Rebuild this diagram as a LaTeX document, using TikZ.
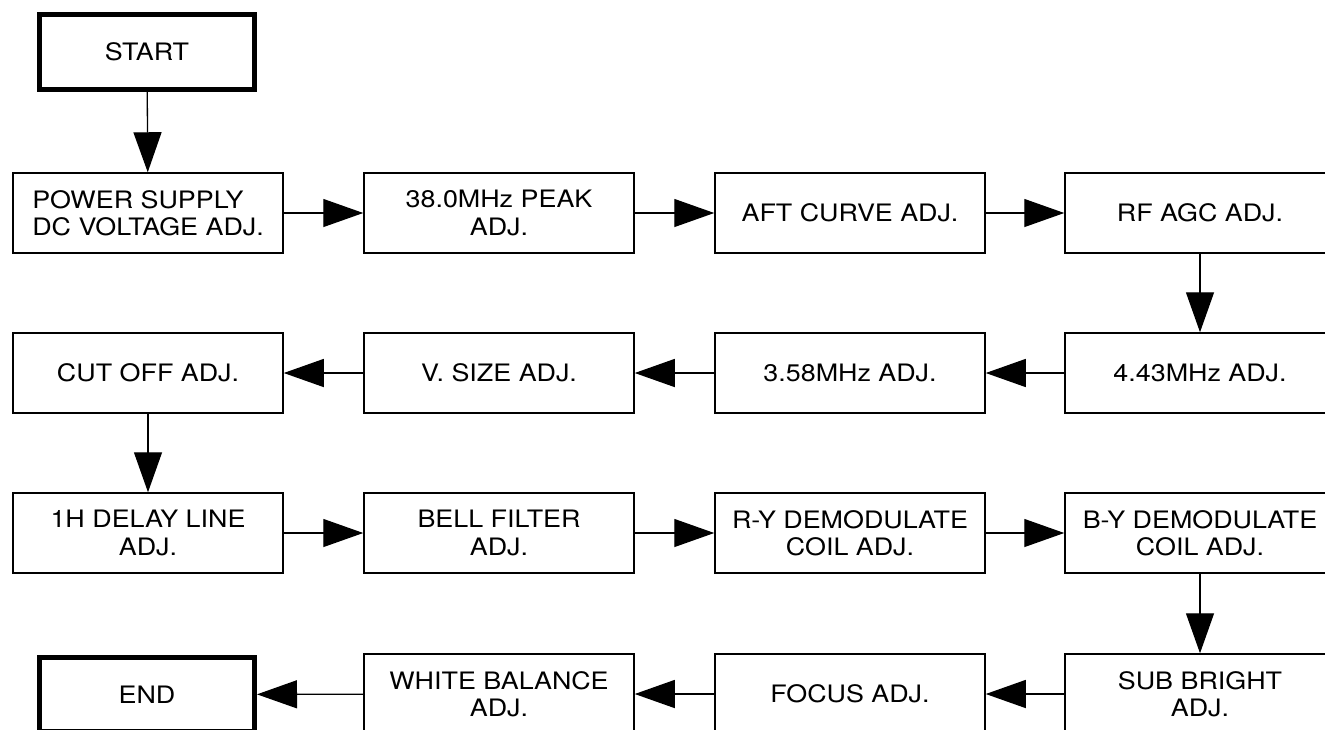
\documentclass[tikz,border=0pt]{standalone}
\usepackage{fontspec}
\setmainfont{TeX Gyre Heros}[FakeStretch=1.12]
\usetikzlibrary{arrows.meta}
\begin{document}
\begin{tikzpicture}[x=1pt,y=-1pt,
  box/.style={draw,line width=1.5pt,minimum width=270pt,minimum height=80pt,inner sep=0pt,align=center,font=\fontsize{24}{27.5}\selectfont},
  term/.style={draw,line width=5pt,minimum width=215pt,minimum height=74.5pt,inner sep=0pt,align=center,font=\fontsize{24}{27.5}\selectfont},
  flow/.style={line width=1.3pt,-{Triangle[length=40pt,width=28pt]}}]
\useasboundingbox (0,0) rectangle (1325,729);
\clip (0,0) rectangle (1325,729);
\node[term] (start) at (147,52) {START};
\node[box,align=left] (ps) at (148,213) {POWER SUPPLY\\DC VOLTAGE ADJ.};
\node[box] (peak) at (499,213) {38.0MHz PEAK\\ADJ.};
\node[box] (aft) at (850,213) {AFT CURVE ADJ.};
\node[box] (rf) at (1200,213) {RF AGC ADJ.};
\node[box] (f443) at (1200,373) {4.43MHz ADJ.};
\node[box] (f358) at (850,373) {3.58MHz ADJ.};
\node[box] (vsize) at (499,373) {V. SIZE ADJ.};
\node[box] (cut) at (148,373) {CUT OFF ADJ.};
\node[box] (delay) at (148,533) {1H DELAY LINE\\ADJ.};
\node[box] (bell) at (499,533) {BELL FILTER\\ADJ.};
\node[box] (ry) at (850,533) {R-Y DEMODULATE\\COIL ADJ.};
\node[box] (by) at (1200,533) {B-Y DEMODULATE\\COIL ADJ.};
\node[box] (sub) at (1200,694) {SUB BRIGHT\\ADJ.};
\node[box] (focus) at (850,694) {FOCUS ADJ.};
\node[box] (white) at (499,694) {WHITE BALANCE\\ADJ.};
\node[term] (end) at (147,694.5) {END};
\draw[flow] (start) -- (ps);
\draw[flow] (ps) -- (peak);
\draw[flow] (peak) -- (aft);
\draw[flow] (aft) -- (rf);
\draw[flow] (rf) -- (f443);
\draw[flow] (f443) -- (f358);
\draw[flow] (f358) -- (vsize);
\draw[flow] (vsize) -- (cut);
\draw[flow] (cut) -- (delay);
\draw[flow] (delay) -- (bell);
\draw[flow] (bell) -- (ry);
\draw[flow] (ry) -- (by);
\draw[flow] (by) -- (sub);
\draw[flow] (sub) -- (focus);
\draw[flow] (focus) -- (white);
\draw[flow] (white) -- (end);
\end{tikzpicture}
\end{document}
